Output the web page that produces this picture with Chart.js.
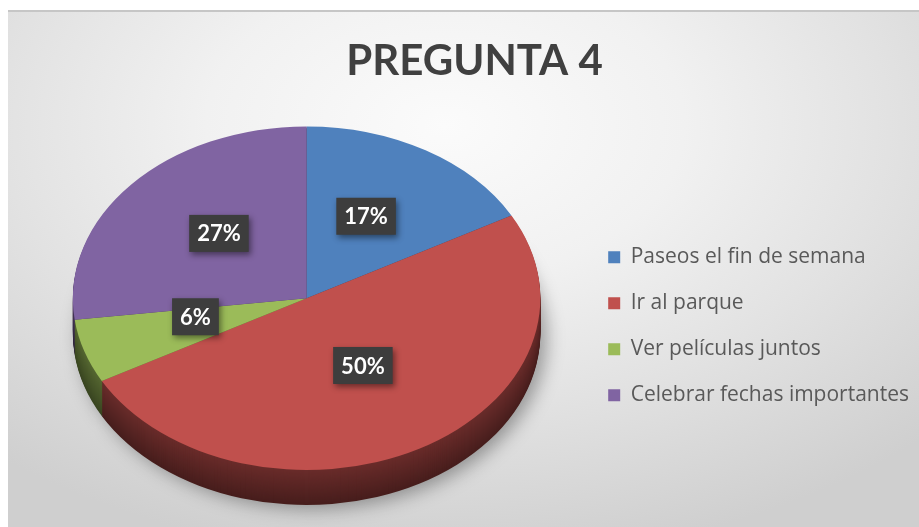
<!DOCTYPE html>
<html>
<head>
<meta charset="utf-8">
<script src="https://cdn.jsdelivr.net/npm/chart.js@4"></script>
<style>
    html, body { margin: 0; padding: 0; background: #ffffff; }
    #frame {
        position: absolute; left: 8px; top: 10px; width: 911px; height: 517px;
        box-sizing: border-box;
        border-top: 2px solid #c6c6c6;
        background: radial-gradient(ellipse 75% 85% at 48% 22%, #fbfbfb 0%, #f1f1f1 35%, #e2e2e2 65%, #cfcfcf 100%);
    }
    #wrap { position: absolute; left: 0; top: 0; width: 919px; height: 527px; }
</style>
</head>
<body>
<div id="frame"></div>
<div id="wrap"><canvas id="pieChart" width="919" height="527"></canvas></div>
<script>
const labels = ['Paseos el fin de semana', 'Ir al parque', 'Ver películas juntos', 'Celebrar fechas importantes'];
const values = [17, 50, 6, 27];
const pctLabels = ['17%', '50%', '6%', '27%'];

const colors = ['#4F81BD', '#C0504D', '#9BBB59', '#8064A2'];
const tiltX = 234 / 172; // stretch of the top face
const depth = 35;

function shade(hex, f) {
    const n = parseInt(hex.slice(1), 16);
    const r = Math.round(((n >> 16) & 255) * f);
    const g = Math.round(((n >> 8) & 255) * f);
    const b = Math.round((n & 255) * f);
    return `rgb(${r},${g},${b})`;
}

const pie3d = {
    id: 'pie3d',
    beforeDatasetsDraw(chart) {
        const ctx = chart.ctx;
        const arcs = chart.getDatasetMeta(0).data;
        const cx = arcs[0].x, cy = arcs[0].y;
        for (let d = depth; d > 0; d--) {
            ctx.save();
            ctx.translate(cx, cy + d);
            ctx.scale(tiltX, 1);
            ctx.translate(-cx, -cy);
            if (d === depth) {
                ctx.shadowColor = 'rgba(0,0,0,0.35)';
                ctx.shadowBlur = 18;
                ctx.shadowOffsetX = 6;
                ctx.shadowOffsetY = 4;
            }
            const f = 0.55 - 0.18 * (d / depth);
            arcs.forEach((arc, i) => {
                ctx.fillStyle = shade(colors[i], f);
                ctx.beginPath();
                ctx.moveTo(cx, cy);
                ctx.arc(cx, cy, arc.outerRadius, arc.startAngle, arc.endAngle);
                ctx.closePath();
                ctx.fill();
            });
            ctx.restore();
        }
        ctx.save();
        ctx.translate(cx, cy);
        ctx.scale(tiltX, 1);
        ctx.translate(-cx, -cy);
    },
    afterDatasetsDraw(chart) {
        const ctx = chart.ctx;
        ctx.restore();
        const arcs = chart.getDatasetMeta(0).data;
        const cx = arcs[0].x;
        ctx.save();
        ctx.font = 'bold 22px Lato';
        ctx.textAlign = 'center';
        ctx.textBaseline = 'middle';
        arcs.forEach((arc, i) => {
            const p = arc.tooltipPosition();
            const x = cx + (p.x - cx) * tiltX;
            const y = p.y - 8;
            const w = ctx.measureText(pctLabels[i]).width + 16;
            const h = 37;
            ctx.save();
            ctx.shadowColor = 'rgba(0,0,0,0.45)';
            ctx.shadowBlur = 6;
            ctx.shadowOffsetX = 2;
            ctx.shadowOffsetY = 3;
            ctx.fillStyle = '#3d3d3d';
            ctx.fillRect(x - w / 2, y - h / 2, w, h);
            ctx.restore();
            ctx.fillStyle = '#ffffff';
            ctx.fillText(pctLabels[i], x, y + 1);
        });
        ctx.restore();
    }
};

const ctx = document.getElementById('pieChart').getContext('2d');
new Chart(ctx, {
    type: 'pie',
    data: {
        labels: labels,
        datasets: [{
            data: values,
            backgroundColor: colors,
            borderWidth: 0,
            hoverOffset: 0,
            clip: false
        }]
    },
    options: {
        responsive: false,
        animation: false,
        events: [],
        layout: { padding: { left: 30, right: 0, top: 0, bottom: 57 } },
        plugins: {
            title: {
                display: true,
                text: 'PREGUNTA 4',
                color: '#404040',
                font: { family: 'Lato', size: 42, weight: 'bold' },
                padding: { top: 36, bottom: 40 }
            },
            legend: {
                position: 'right',
                title: { display: true, text: '', padding: { top: 168, bottom: 0 } },
                labels: {
                    boxWidth: 12,
                    boxHeight: 12,
                    padding: 25,
                    color: '#595959',
                    font: { family: 'Open Sans', size: 21 }
                }
            },
            tooltip: { enabled: false }
        }
    },
    plugins: [pie3d]
});
</script>
</body>
</html>
